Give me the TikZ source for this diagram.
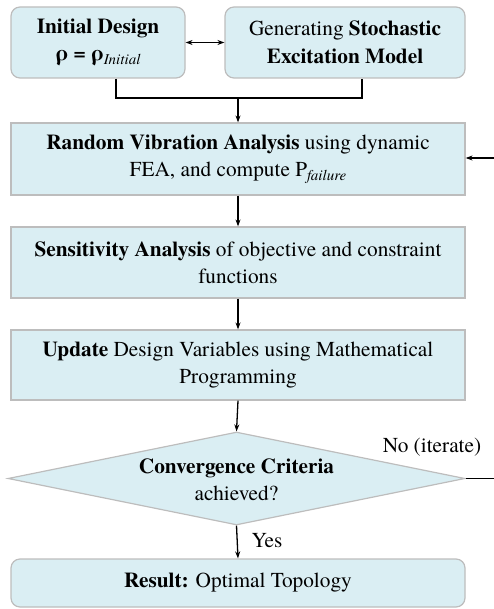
\documentclass[tikz,border=0pt]{standalone}
\usepackage{fontspec}
\setmainfont{texgyretermes}[Extension=.otf,UprightFont=*-regular,BoldFont=*-bold,ItalicFont=*-italic,BoldItalicFont=*-bolditalic]
\usetikzlibrary{shapes.geometric,arrows.meta}
\definecolor{boxfill}{HTML}{DAEEF3}
\definecolor{boxline}{HTML}{BDBDBD}
\tikzset{
  base/.style={fill=boxfill,draw=boxline,line width=1.2pt,align=center,inner sep=0pt,
    font=\fontsize{21.3}{27.5}\selectfont},
  low/.style={execute at begin node={\rule{0pt}{20.5pt}}},
  rbox/.style={base,rounded corners=9pt},
  sbox/.style={base,low},
  conn/.style={line width=1.3pt,-{Stealth[length=7pt,width=5pt]}},
  plain/.style={line width=1.3pt},
  lbl/.style={font=\fontsize{21.3}{27.5}\selectfont,inner sep=0pt}
}
\newcommand{\subit}[1]{\raisebox{-0.35ex}{\fontsize{15}{15}\selectfont\itshape #1}}
\begin{document}
\begin{tikzpicture}[x=1pt,y=-1pt]
\useasboundingbox (0,0) rectangle (494,609);
\node[rbox,low,minimum width=174pt,minimum height=71pt] (init) at (98,42.5)
  {\textbf{Initial Design}\\\textbf{ρ = ρ}\subit{Initial}};
\node[rbox,low,minimum width=240pt,minimum height=71pt] (stoch) at (345,42.5)
  {Generating \textbf{Stochastic}\\\textbf{Excitation Model}};
\node[sbox,minimum width=454pt,minimum height=72pt] (rva) at (238,159)
  {\textbf{Random Vibration Analysis} using dynamic\\FEA, and compute P\subit{failure}};
\node[sbox,minimum width=454pt,minimum height=71pt] (sens) at (238,262.5)
  {\textbf{Sensitivity Analysis} of objective and constraint\\functions};
\node[sbox,minimum width=454pt,minimum height=70pt] (upd) at (238,365)
  {\textbf{Update} Design Variables using Mathematical\\Programming};
\node[base,diamond,aspect=4.9,minimum width=457pt,minimum height=93pt] (conv) at (236.5,478.5) {};
\node[lbl,low,align=center] (convt) at (236.5,480) {\textbf{Convergence Criteria}\\achieved?};
\node[rbox,minimum width=454pt,minimum height=48pt] (res) at (238,583)
  {\textbf{Result:} Optimal Topology};
\node[lbl] (no) at (432,447) {No (iterate)};
\node[lbl] (yes) at (267,541) {Yes};
\coordinate (j) at (238,98);
\coordinate (loopa) at (494,478.5);
\coordinate (loopb) at (494,158);
\draw[line width=1.3pt,{Stealth[length=7pt,width=5pt]}-{Stealth[length=7pt,width=5pt]}] (init.east) -- (stoch.west);
\draw[plain] ([xshift=18pt]init.south) |- (j) -| ([xshift=17pt]stoch.south);
\draw[conn] (j) -- (rva.north);
\draw[conn] (rva.south) -- (sens.north);
\draw[conn] (sens.south) -- (upd.north);
\draw[conn] (upd.south) -- (conv.north);
\draw[conn] (conv.south) -- (res.north);
\draw[plain] (conv.east) -- (loopa);
\draw[conn] (loopb) -- (rva.east |- loopb);
\end{tikzpicture}
\end{document}
